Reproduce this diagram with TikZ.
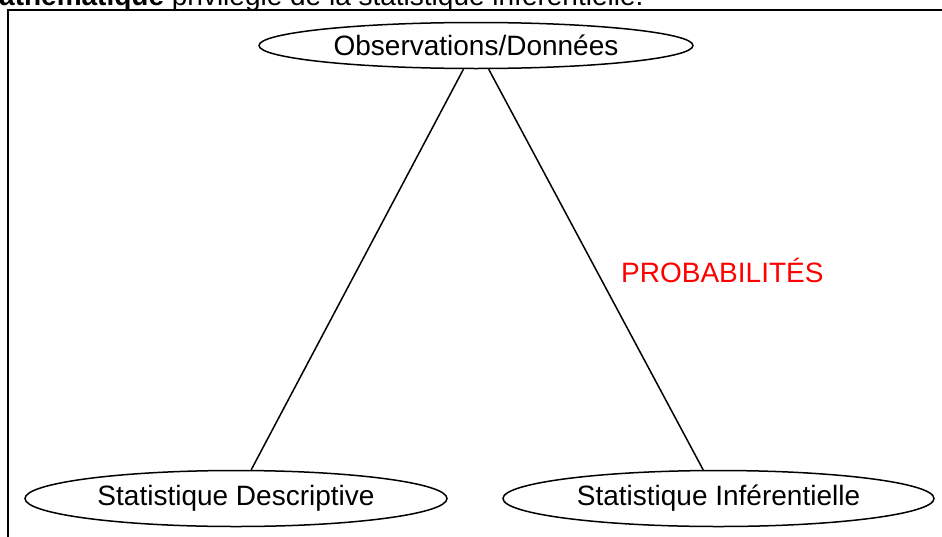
\documentclass[tikz,border=0pt]{standalone}
\usepackage{fontspec}
\setmainfont{Liberation Sans}
\usetikzlibrary{shapes.geometric}

\tikzset{
  stat/.style={ellipse, draw, line width=1.5pt, inner sep=0pt,
    font=\fontsize{28}{34}\selectfont},
  link/.style={line width=1.5pt}
}

\begin{document}
\begin{tikzpicture}[x=1pt,y=-1pt]

\useasboundingbox (0,0) rectangle (942,536);

\node[anchor=base west, inner sep=0pt, font=\fontsize{28}{34}\selectfont] (intro) at (-1,5)
  {\textbf{athématique} privilégie de la statistique inférentielle.};

\draw[line width=2pt] (8,560) -- (8,10) -- (960,10);

\node[stat, minimum width=434pt, minimum height=46pt] (obs) at (476,45.5) {Observations/Données};
\node[stat, minimum width=422pt, minimum height=56pt] (desc) at (236,498.5) {Statistique Descriptive};
\node[stat, minimum width=431pt, minimum height=56pt] (inf) at (718.5,498.5) {Statistique Inférentielle};

\draw[link] (obs) -- (desc);
\draw[link] (obs) -- (inf);

\node[anchor=base west, inner sep=0pt, text=red, font=\fontsize{28}{34}\selectfont] (proba) at (621,282) {PROBABILITÉS};

\end{tikzpicture}
\end{document}
